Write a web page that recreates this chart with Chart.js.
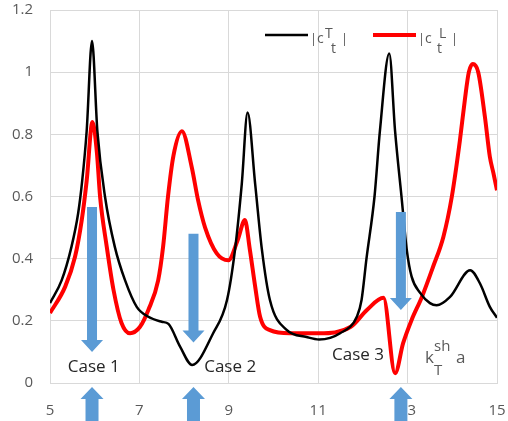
<!DOCTYPE html>
<html>
<head>
<meta charset="utf-8">
<script src="https://cdn.jsdelivr.net/npm/chart.js@4.4.0/dist/chart.umd.min.js"></script>
<style>
  html, body { margin: 0; padding: 0; background: #fff; }
  #wrap { width: 508px; height: 421px; position: relative; }
</style>
</head>
<body>
<div id="wrap"><canvas id="chart"></canvas></div>
<script>
// |c_t^T| (black)
const kT = [5.0, 5.26, 5.48, 5.63, 5.72, 5.82, 5.94, 6.06, 6.23, 6.45, 6.68, 6.94, 7.2, 7.5, 7.65, 7.91, 8.18,
  8.65, 8.96, 9.14, 9.29, 9.42, 9.59, 9.74, 9.92, 10.3, 10.74, 11.02, 11.49, 11.87, 11.97, 12.08, 12.26,
  12.38, 12.59, 12.72, 12.87, 12.98, 13.09, 13.28, 13.5, 13.65, 13.95, 14.4, 14.62, 14.84, 15.0];
const cT = [0.257, 0.33, 0.438, 0.546, 0.65, 0.81, 1.10, 0.81, 0.60, 0.438, 0.33, 0.245, 0.213, 0.197, 0.19, 0.117, 0.058,
  0.16, 0.267, 0.43, 0.64, 0.87, 0.64, 0.43, 0.267, 0.17, 0.148, 0.14, 0.16, 0.215, 0.267, 0.40, 0.60,
  0.81, 1.06, 0.81, 0.59, 0.43, 0.342, 0.29, 0.257, 0.25, 0.277, 0.363, 0.32, 0.245, 0.21];

// |c_t^L| (red)
const kL = [5.0, 5.34, 5.56, 5.71, 5.82, 5.95, 6.05, 6.12, 6.27, 6.42, 6.6, 6.79, 7.01, 7.2, 7.42, 7.53, 7.64, 7.76, 7.95,
  8.17, 8.31, 8.47, 8.73, 8.99, 9.2, 9.36, 9.47, 9.59, 9.7, 9.92, 10.37, 11.02, 11.73, 12.09,
  12.46, 12.72, 12.9, 13.09, 13.32, 13.57, 13.8, 13.99, 14.17, 14.28, 14.37, 14.46, 14.58, 14.73, 14.84, 14.92, 15.0];
const cL = [0.225, 0.31, 0.406, 0.524, 0.65, 0.84, 0.74, 0.60, 0.438, 0.30, 0.193, 0.16, 0.18, 0.235, 0.33, 0.438, 0.60, 0.73, 0.81,
  0.695, 0.59, 0.50, 0.417, 0.395, 0.46, 0.524, 0.43, 0.31, 0.213, 0.17, 0.16, 0.16, 0.181, 0.235,
  0.274, 0.031, 0.128, 0.203, 0.277, 0.374, 0.47, 0.60, 0.78, 0.91, 1.0, 1.026, 1.0, 0.856, 0.728, 0.675, 0.62];

// the three cases marked with arrows
const caseNames = ['Case 1', 'Case 2', 'Case 3'];
const caseK = [5.94, 8.21, 12.85];
const arrowFrom = [0.566, 0.48, 0.55];
const arrowTo = [0.10, 0.13, 0.235];
const caseLabelK = [5.98, 9.03, 11.89];
const caseLabelC = [0.05, 0.05, 0.09];

const xTicks = [5, 7, 9, 11, 13, 15];
const yTicks = [0, 0.2, 0.4, 0.6, 0.8, 1, 1.2];

const toPoints = (xs, ys) => xs.map((x, i) => ({ x: x, y: ys[i] }));

const BLUE = '#5b9bd5';
const GREY = '#595959';

function downArrow(ctx, cx, top, tip) {
  const shaft = 5, head = 11, headLen = 12;
  ctx.beginPath();
  ctx.moveTo(cx - shaft, top);
  ctx.lineTo(cx + shaft, top);
  ctx.lineTo(cx + shaft, tip - headLen);
  ctx.lineTo(cx + head, tip - headLen);
  ctx.lineTo(cx, tip);
  ctx.lineTo(cx - head, tip - headLen);
  ctx.lineTo(cx - shaft, tip - headLen);
  ctx.closePath();
  ctx.fill();
}

function upArrow(ctx, cx, tip, bottom) {
  const shaft = 6.5, head = 11.5, headLen = 12;
  ctx.beginPath();
  ctx.moveTo(cx, tip);
  ctx.lineTo(cx + head, tip + headLen);
  ctx.lineTo(cx + shaft, tip + headLen);
  ctx.lineTo(cx + shaft, bottom);
  ctx.lineTo(cx - shaft, bottom);
  ctx.lineTo(cx - shaft, tip + headLen);
  ctx.lineTo(cx - head, tip + headLen);
  ctx.closePath();
  ctx.fill();
}

// legend entry: line sample then |c| with super/subscript
function legendEntry(ctx, x, y, color, width, sup) {
  ctx.strokeStyle = color;
  ctx.lineWidth = width;
  ctx.beginPath();
  ctx.moveTo(x, y);
  ctx.lineTo(x + 43, y);
  ctx.stroke();
  ctx.fillStyle = GREY;
  ctx.textAlign = 'left';
  ctx.textBaseline = 'alphabetic';
  ctx.font = '13px "Open Sans"';
  ctx.fillText('|', x + 45, y + 8);
  ctx.font = '14px "Open Sans"';
  ctx.fillText('c', x + 52, y + 8);
  ctx.fillText(sup, sup === 'T' ? x + 60 : x + 66, y + 3);
  ctx.fillText('t', sup === 'T' ? x + 66 : x + 64, y + 18);
  ctx.font = '13px "Open Sans"';
  ctx.fillText('|', sup === 'T' ? x + 76 : x + 78, y + 8);
}

const casesPlugin = {
  id: 'cases',
  afterDatasetsDraw(chart) {
    const { ctx, scales: { x, y }, chartArea } = chart;
    ctx.save();
    ctx.fillStyle = BLUE;
    caseK.forEach((k, i) => {
      const px = x.getPixelForValue(k);
      downArrow(ctx, px, y.getPixelForValue(arrowFrom[i]), y.getPixelForValue(arrowTo[i]));
      upArrow(ctx, px, chartArea.bottom + 4, chart.height + 2);
    });

    ctx.fillStyle = '#262626';
    ctx.font = '17px "Open Sans"';
    ctx.textAlign = 'center';
    ctx.textBaseline = 'middle';
    caseNames.forEach((name, i) => {
      ctx.fillText(name, x.getPixelForValue(caseLabelK[i]), y.getPixelForValue(caseLabelC[i]));
    });

    // k_T^sh a
    const kx = x.getPixelForValue(13.39);
    const ky = y.getPixelForValue(0.065);
    ctx.fillStyle = GREY;
    ctx.textAlign = 'left';
    ctx.textBaseline = 'alphabetic';
    ctx.font = '17px "Open Sans"';
    ctx.fillText('k', kx, ky);
    ctx.fillText('a', kx + 31, ky);
    ctx.font = '15px "Open Sans"';
    ctx.fillText('sh', kx + 9, ky - 12);
    ctx.fillText('T', kx + 9, ky + 12);

    legendEntry(ctx, 265, 35, '#000000', 2.5, 'T');
    legendEntry(ctx, 373, 35, '#ff0000', 4, 'L');
    ctx.restore();
  }
};

new Chart(document.getElementById('chart'), {
  type: 'line',
  data: {
    datasets: [
      {
        label: '|c_t^T|',
        data: toPoints(kT, cT),
        borderColor: '#000000',
        borderWidth: 2.5,
        pointRadius: 0,
        cubicInterpolationMode: 'monotone',
        fill: false
      },
      {
        label: '|c_t^L|',
        data: toPoints(kL, cL),
        borderColor: '#ff0000',
        borderWidth: 4,
        pointRadius: 0,
        cubicInterpolationMode: 'monotone',
        fill: false
      }
    ]
  },
  options: {
    responsive: true,
    maintainAspectRatio: false,
    animation: false,
    layout: { padding: { top: 10, right: 11, left: 0, bottom: 0 } },
    plugins: {
      legend: { display: false },
      tooltip: { enabled: false }
    },
    scales: {
      x: {
        type: 'linear',
        min: 5,
        max: 15,
        afterBuildTicks: (axis) => { axis.ticks = xTicks.map(v => ({ value: v })); },
        afterFit: (axis) => {
          axis.height = 38;
          axis.paddingLeft = 0;
          axis.paddingRight = 0;
        },
        grid: { color: '#d9d9d9', drawTicks: false },
        border: { color: '#d9d9d9' },
        ticks: { padding: 19, color: GREY, font: { family: 'Open Sans', size: 15 } }
      },
      y: {
        min: 0,
        max: 1.2,
        afterBuildTicks: (axis) => { axis.ticks = yTicks.map(v => ({ value: v })); },
        afterFit: (axis) => {
          axis.width = 50;
          axis.paddingTop = 0;
          axis.paddingBottom = 0;
        },
        grid: { color: '#d9d9d9', drawTicks: false },
        border: { color: '#d9d9d9' },
        ticks: {
          padding: 17,
          color: GREY,
          font: { family: 'Open Sans', size: 15 },
          callback: (v) => String(v)
        }
      }
    }
  },
  plugins: [casesPlugin]
});
</script>
</body>
</html>
